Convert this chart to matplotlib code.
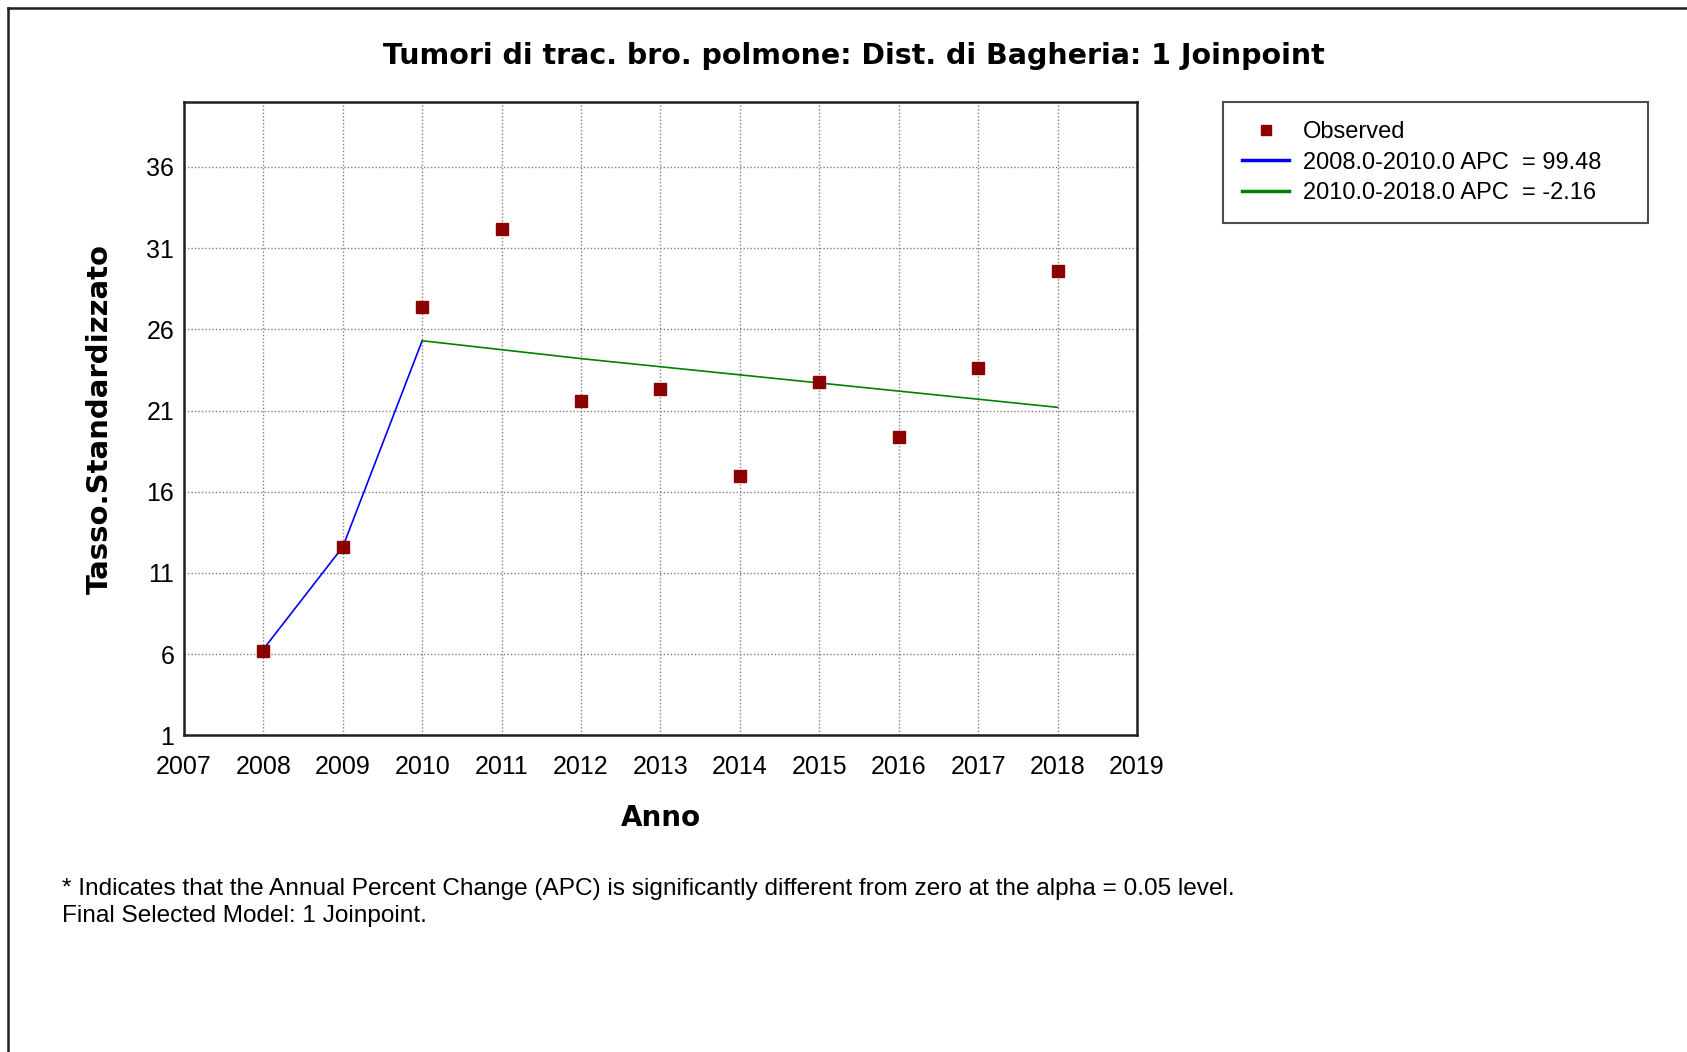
import numpy as np
import matplotlib.pyplot as plt
from matplotlib.lines import Line2D

# ---- data ----
anni = [2008, 2009, 2010, 2011, 2012, 2013, 2014, 2015, 2016, 2017, 2018]
osservati = [6.2, 12.6, 27.4, 32.2, 21.6, 22.3, 17.0, 22.75, 19.4, 23.6, 29.6]

seg1_anni = [2008, 2009, 2010]
seg1_fit = [6.3, 12.6, 25.3]
seg2_anni = [2010, 2011, 2012, 2013, 2014, 2015, 2016, 2017, 2018]
seg2_fit = [25.3, 24.75, 24.2, 23.7, 23.2, 22.7, 22.2, 21.7, 21.2]

xticks = list(range(2007, 2020))
yticks = [1, 6, 11, 16, 21, 26, 31, 36]

etichette = ['Observed', '2008.0-2010.0 APC  = 99.48', '2010.0-2018.0 APC  = -2.16']
titolo = 'Tumori di trac. bro. polmone: Dist. di Bagheria: 1 Joinpoint'
nota1 = '* Indicates that the Annual Percent Change (APC) is significantly different from zero at the alpha = 0.05 level.'
nota2 = 'Final Selected Model: 1 Joinpoint.'

plt.rcParams['font.family'] = ['Liberation Sans', 'DejaVu Sans']

fig = plt.figure(figsize=(16.87, 10.52), dpi=100)
ax = fig.add_axes([0.109, 0.301, 0.565, 0.602])

ax.plot(seg1_anni, seg1_fit, color='#0000ff', lw=1.2, zorder=3)
ax.plot(seg2_anni, seg2_fit, color='#008000', lw=1.2, zorder=3)
ax.plot(anni, osservati, ls='none', marker='s', ms=8.5, color='#8b0000', zorder=4)

ax.set_xlim(2007, 2019)
ax.set_ylim(1, 40.0)
ax.set_xticks(xticks)
ax.set_yticks(yticks)
ax.tick_params(axis='both', length=0, labelsize=18)
ax.tick_params(axis='x', pad=14.5)
ax.tick_params(axis='y', pad=7)
ax.grid(True, ls=(0, (1, 1.5)), color='#808080', lw=1)
for s in ax.spines.values():
    s.set_linewidth(1.8)
    s.set_color('#202020')

ax.set_xlabel('Anno', fontsize=20, fontweight='bold', family='DejaVu Sans', labelpad=17.5)
ax.set_ylabel('Tasso.Standardizzato', fontsize=21, fontweight='bold', family='DejaVu Sans', labelpad=23)

fig.text(0.506, 0.947, titolo, ha='center', va='center', fontsize=20.5,
         fontweight='bold', family='DejaVu Sans')

handles = [
    Line2D([], [], ls='none', marker='s', ms=7, color='#8b0000'),
    Line2D([], [], color='#0000ff', lw=2.5),
    Line2D([], [], color='#008000', lw=2.5),
]
leg = fig.legend(handles, etichette, loc='upper left',
                 bbox_to_anchor=(0.725, 0.789, 0.252, 0.114), mode='expand',
                 fontsize=17, frameon=True, fancybox=False, edgecolor='#202020',
                 handlelength=2.0, handletextpad=0.6, labelspacing=0.37,
                 borderpad=0.8, borderaxespad=0)
leg.get_frame().set_linewidth(1.5)

fig.text(0.037, 0.155, nota1, ha='left', va='center', fontsize=17.6)
fig.text(0.037, 0.129, nota2, ha='left', va='center', fontsize=17.6)

# window border
fig.add_artist(Line2D([0.005, 1.0], [0.992, 0.992], color='#202020', lw=1.8))
fig.add_artist(Line2D([0.005, 0.005], [0.0, 0.992], color='#202020', lw=1.8))

fig.savefig('out.png', dpi=100)
